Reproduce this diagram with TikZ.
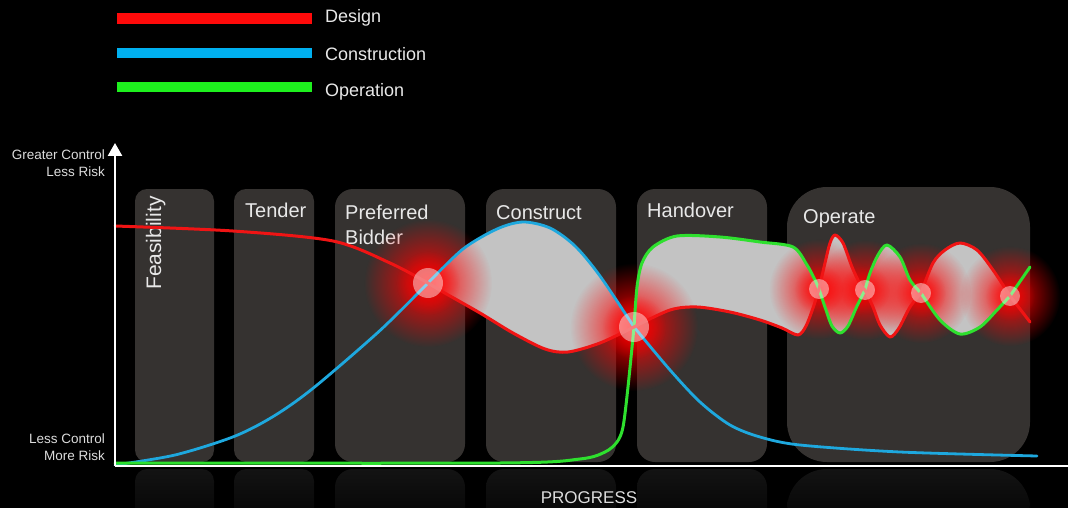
\documentclass[tikz,border=0pt]{standalone}
\usepackage{fontspec}
\setmainfont{Liberation Sans}
\usetikzlibrary{arrows.meta,fadings}
\definecolor{boxgray}{HTML}{353230}
\definecolor{fillgray}{HTML}{C3C3C3}
\definecolor{dred}{HTML}{F01414}
\definecolor{cblue}{HTML}{1EA8DE}
\definecolor{cgreen}{HTML}{2EE02E}
\definecolor{lred}{HTML}{FF0A0A}
\definecolor{lblue}{HTML}{00B0F0}
\definecolor{lgreen}{HTML}{1EF01E}
\definecolor{txt}{HTML}{E8E8E8}
\definecolor{axtxt}{HTML}{DCDCDC}
\definecolor{refl}{HTML}{131313}
\tikzfading[name=glowfade, inner color=transparent!0, outer color=transparent!100]
\begin{document}
\begin{tikzpicture}[x=1pt,y=-1pt,
  phasebox/.style={fill=boxgray, rounded corners=#1},
  phasebox/.default=14pt,
  reflbox/.style={top color=refl, bottom color=black, rounded corners=#1},
  reflbox/.default=14pt,
  phaselbl/.style={text=txt, font=\fontsize{20}{25}\selectfont, anchor=base west, inner sep=0pt},
  axlbl/.style={text=axtxt, font=\fontsize{13.5}{17}\selectfont, anchor=base east, inner sep=0pt},
  legtxt/.style={text=txt, font=\fontsize{18}{22}\selectfont, anchor=base west, inner sep=0pt},
  redc/.style={draw=dred, line width=3pt, line cap=round, line join=round},
  bluec/.style={draw=cblue, line width=2.8pt, line cap=round, line join=round},
  greenc/.style={draw=cgreen, line width=3pt, line cap=round, line join=round},
  band/.style={fill=fillgray},
  glow/.style={fill=red, path fading=glowfade},
  knot/.style={fill=white, fill opacity=0.45},
  axisline/.style={draw=white, line width=2.5pt}
]
\useasboundingbox (0,0) rectangle (1068,508);
\fill[black] (0,0) rectangle (1068,508);

% reflections
\shade[reflbox=12pt] (135,469) rectangle (214,540);
\shade[reflbox=12pt] (234,469) rectangle (314,540);
\shade[reflbox=18pt] (335,469) rectangle (465,540);
\shade[reflbox=18pt] (486,469) rectangle (616,540);
\shade[reflbox=18pt] (637,469) rectangle (767,540);
\shade[reflbox=40pt] (787,469) rectangle (1030,540);

% phase boxes
\fill[phasebox=12pt] (135,189) rectangle (214,462);
\fill[phasebox=12pt] (234,189) rectangle (314,462);
\fill[phasebox=18pt] (335,189) rectangle (465,462);
\fill[phasebox=18pt] (486,189) rectangle (616,462);
\fill[phasebox=18pt] (637,189) rectangle (767,462);
\fill[phasebox=40pt] (787,187) rectangle (1030,462);

% phase labels
\node[phaselbl, rotate=90, font=\fontsize{21}{25}\selectfont] (feas) at (161,290) {Feasibility};
\node[phaselbl] (tender) at (245,217) {Tender};
\node[phaselbl] (pref) at (345,219) {Preferred};
\node[phaselbl] (bid) at (345,244) {Bidder};
\node[phaselbl] (constr) at (496,219) {Construct};
\node[phaselbl] (hand) at (647,217) {Handover};
\node[phaselbl] (oper) at (803,223) {Operate};

% crossing points
\coordinate (c1) at (428,283);
\coordinate (c2) at (634,327);
\coordinate (c3) at (819,289);
\coordinate (c4) at (865,290);
\coordinate (c5) at (921,293);
\coordinate (c6) at (1010,296);

% grey bands
\fill[band] plot[smooth] coordinates {(428,283) (463,249) (497,229) (523,222) (550,228) (575,246) (600,276) (634,327)}
  -- plot[smooth] coordinates {(634,327) (600,343) (568,352) (545,349) (513,333) (480,313) (443,292) (428,283)} -- cycle;
\fill[band] plot[smooth] coordinates {(634,327) (637,287) (642,263) (653,247) (677,236) (720,237) (760,242) (793,247) (807,265) (815,280) (819,289)}
  -- plot[smooth] coordinates {(819,289) (813,308) (806,326) (798,335) (782,328) (760,320) (730,312) (697,307) (670,310) (634,327)} -- cycle;
\fill[band] plot[smooth] coordinates {(819,289) (825,263) (830,243) (835,235) (843,243) (852,267) (860,284) (865,290)}
  -- plot[smooth] coordinates {(865,290) (857,306) (848,326) (840,333) (832,326) (826,310) (819,289)} -- cycle;
\fill[band] plot[smooth] coordinates {(865,290) (870,273) (878,255) (887,245) (900,257) (910,280) (921,293)}
  -- plot[smooth] coordinates {(921,293) (910,307) (899,328) (890,337) (880,325) (873,307) (865,290)} -- cycle;
\fill[band] plot[smooth] coordinates {(921,293) (933,263) (945,250) (960,243) (977,250) (993,270) (1010,296)}
  -- plot[smooth] coordinates {(1010,296) (997,310) (980,327) (960,334) (940,320) (921,293)} -- cycle;

% glows
\fill[glow] (c1) circle (64pt);
\fill[glow, fill opacity=0.7] (c1) circle (32pt);
\fill[glow] (c2) circle (64pt);
\fill[glow, fill opacity=0.7] (c2) circle (32pt);
\foreach \c in {c3,c4,c5,c6}{
  \fill[glow, fill opacity=0.95] (\c) circle (50pt);
  \fill[glow, fill opacity=0.55] (\c) circle (25pt);
}

% construction curve
\draw[bluec] plot[smooth] coordinates {(115,465) (175,455) (234,436.5) (274,416) (314,387.5) (380,330.5) (428,283)};
\draw[bluec] plot[smooth] coordinates {(428,283) (463,249) (497,229) (523,222) (550,228) (575,246) (600,276) (634,327)};
\draw[bluec] plot[smooth] coordinates {(634,327) (670,370) (700,402) (730,425) (760,437) (800,445) (900,452) (1037,456)};

% operation curve
\draw[greenc] plot[smooth] coordinates {(115,463) (500,463) (580,459) (605,452) (617,442) (623,427) (628,387) (634,327)};
\draw[greenc] plot[smooth] coordinates {(634,327) (637,287) (642,263) (653,247) (677,236) (720,237) (760,242) (793,247) (807,265) (815,280) (819,289)};
\draw[greenc] plot[smooth] coordinates {(819,289) (826,310) (832,326) (840,333) (848,326) (857,306) (865,290)};
\draw[greenc] plot[smooth] coordinates {(865,290) (870,273) (878,255) (887,245) (900,257) (910,280) (921,293)};
\draw[greenc] plot[smooth] coordinates {(921,293) (940,320) (960,334) (980,327) (997,310) (1010,296)};
\draw[greenc] (c6) -- (1030,267);

% design curve
\draw[redc] plot[smooth] coordinates {(115,226) (233,231) (333,241) (390,263) (428,283)};
\draw[redc] plot[smooth] coordinates {(428,283) (443,292) (480,313) (513,333) (545,349) (568,352) (600,343) (634,327)};
\draw[redc] plot[smooth] coordinates {(634,327) (670,310) (697,307) (730,312) (760,320) (782,328) (798,335) (806,326) (813,308) (819,289)};
\draw[redc] plot[smooth] coordinates {(819,289) (825,263) (830,243) (835,235) (843,243) (852,267) (860,284) (865,290)};
\draw[redc] plot[smooth] coordinates {(865,290) (873,307) (880,325) (890,337) (899,328) (910,307) (921,293)};
\draw[redc] plot[smooth] coordinates {(921,293) (933,263) (945,250) (960,243) (977,250) (993,270) (1010,296)};
\draw[redc] (c6) -- (1030,322);

% knots
\fill[knot] (c1) circle (15pt);
\fill[knot] (c2) circle (15pt);
\foreach \c in {c3,c4,c5,c6}{\fill[knot] (\c) circle (10pt);}

% axes
\coordinate (o) at (115,466);
\coordinate (ytop) at (115,143);
\coordinate (xend) at (1068,466);
\draw[axisline] (o) -- (xend);
\draw[axisline, -{Triangle[length=13pt,width=14pt]}] (o) -- (ytop);
\node[axlbl] (gc) at (105,159) {Greater Control};
\node[axlbl] (lr) at (105,176) {Less Risk};
\node[axlbl] (lc) at (105,443) {Less Control};
\node[axlbl] (mr) at (105,460) {More Risk};
\node[text=axtxt, font=\fontsize{17}{20}\selectfont, anchor=base, inner sep=0pt] (prog) at (589,503) {PROGRESS};

% legend
\fill[lred] (117,13) rectangle (312,24);
\fill[lblue] (117,48) rectangle (312,58);
\fill[lgreen] (117,82) rectangle (312,92);
\node[legtxt] (ldes) at (325,23) {Design};
\node[legtxt] (lcon) at (325,61) {Construction};
\node[legtxt] (lop) at (325,97) {Operation};
\end{tikzpicture}
\end{document}
